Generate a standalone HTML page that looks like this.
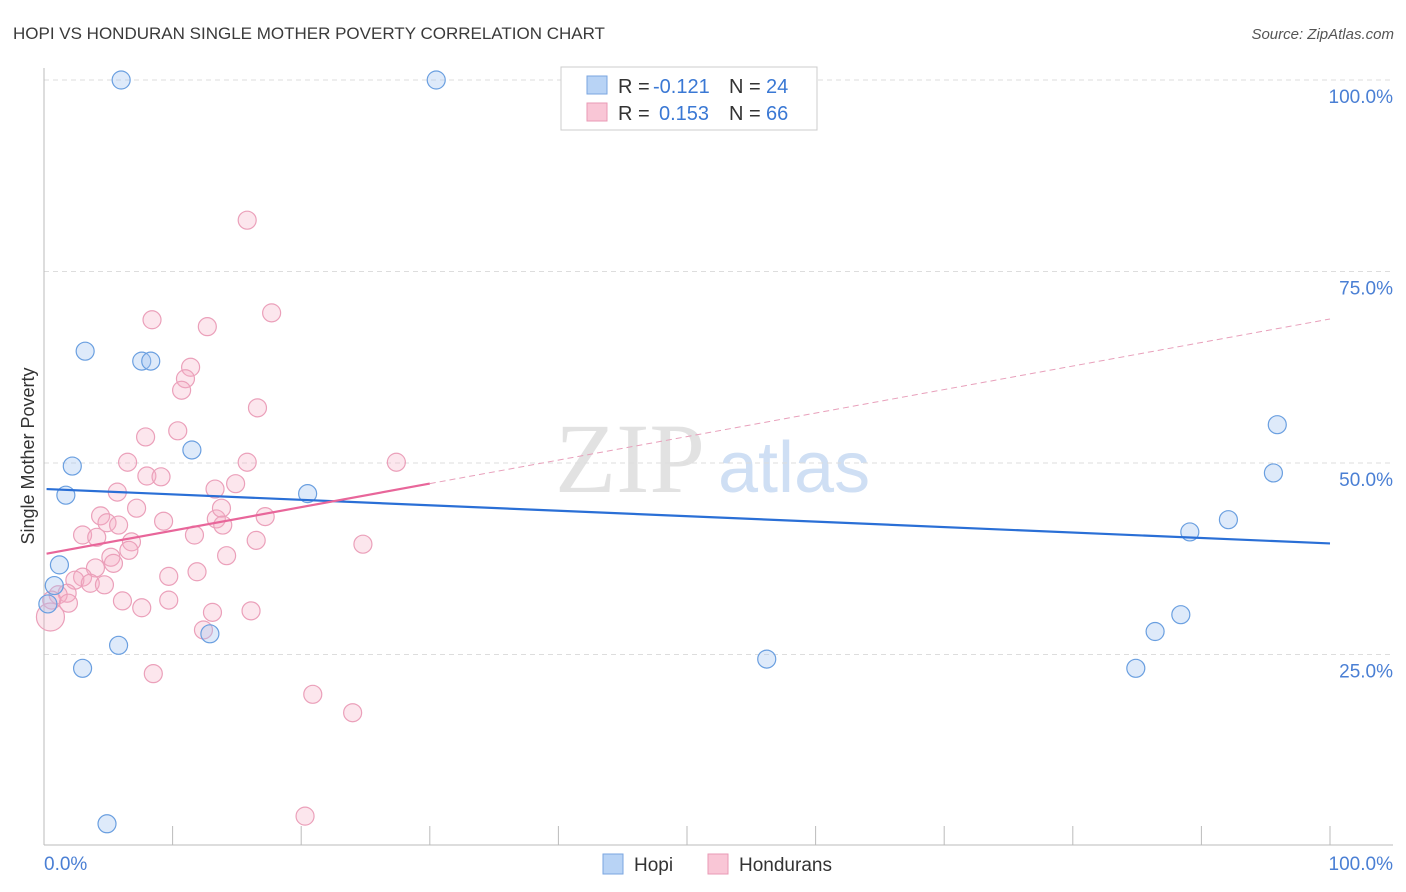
<!DOCTYPE html>
<html><head><meta charset="utf-8"><style>
body{margin:0;background:#fff;font-family:"Liberation Sans",sans-serif}
</style></head><body>
<svg id="c" width="1406" height="892" style="display:block">
<text x="13" y="39" font-size="17" fill="#3a3a3a">HOPI VS HONDURAN SINGLE MOTHER POVERTY CORRELATION CHART</text>
<text x="1394" y="39" font-size="15" fill="#555" font-style="italic" text-anchor="end">Source: ZipAtlas.com</text>
<text x="0" y="0" font-size="18" fill="#333" transform="translate(34,456) rotate(-90)" text-anchor="middle">Single Mother Poverty</text>
<text x="555" y="492" font-size="100" fill="#e2e2e2" font-family="Liberation Serif">ZIP</text>
<text x="718" y="492" font-size="72" fill="#cfdff4">atlas</text>
<g id="grid"></g><g id="pts"></g><g id="lines"></g>
<g>
<rect x="561" y="67" width="256" height="63" fill="#fff" stroke="#ccc"/>
<rect x="587" y="76" width="20" height="18" fill="#b8d3f5" stroke="#7aa6e0"/>
<text x="618" y="93" font-size="20" fill="#333">R =</text>
<text x="653" y="93" font-size="20" fill="#3a78d4">-0.121</text>
<text x="729" y="93" font-size="20" fill="#333">N =</text>
<text x="766" y="93" font-size="20" fill="#3a78d4">24</text>
<rect x="587" y="103" width="20" height="18" fill="#f9c6d6" stroke="#e99ab5"/>
<text x="618" y="120" font-size="20" fill="#333">R =</text>
<text x="659" y="120" font-size="20" fill="#3a78d4">0.153</text>
<text x="729" y="120" font-size="20" fill="#333">N =</text>
<text x="766" y="120" font-size="20" fill="#3a78d4">66</text>
</g>
<g>
<rect x="603" y="854" width="20" height="20" fill="#b8d3f5" stroke="#7aa6e0"/>
<text x="634" y="871" font-size="19" fill="#333">Hopi</text>
<rect x="708" y="854" width="20" height="20" fill="#f9c6d6" stroke="#e99ab5"/>
<text x="739" y="871" font-size="19" fill="#333">Hondurans</text>
</g>
</svg>
<script>
const yTicks=[25,50,75,100];
const xTickLabels=["0.0%","100.0%"];
const hopiX=[6.0,30.5,3.2,7.6,8.3,2.2,1.7,11.5,20.5,1.2,0.8,0.3,5.8,3.0,12.9,4.9,56.2,95.9,95.6,92.1,89.1,88.4,86.4,84.9];
const hopiY=[100,100,64.6,63.3,63.3,49.6,45.8,51.7,46.0,36.7,34.0,31.6,26.2,23.2,27.7,2.9,24.4,55.0,48.7,42.6,41.0,30.2,28.0,23.2];
const hondX=[7.9,10.4,6.5,15.8,27.4,8.0,9.1,5.7,13.3,14.9,7.2,4.4,4.9,5.8,9.3,13.4,13.8,13.9,17.2,3.0,4.1,11.7,16.5,6.8,6.6,5.2,5.4,14.2,24.8,4.0,9.7,11.9,3.0,2.4,3.6,4.7,1.8,1.1,0.6,1.9,6.1,7.6,9.7,13.1,16.1,12.4,0.5,8.5,20.9,24.0,15.8,8.4,12.7,17.7,11.4,11.0,10.7,16.6,20.3];
const hondY=[53.4,54.2,50.1,50.1,50.1,48.3,48.2,46.2,46.6,47.3,44.1,43.1,42.2,41.9,42.4,42.7,44.1,41.9,43.0,40.6,40.3,40.6,39.9,39.7,38.6,37.7,36.9,37.9,39.4,36.3,35.2,35.8,35.1,34.7,34.3,34.1,33.0,32.8,32.1,31.7,32.0,31.1,32.1,30.5,30.7,28.2,29.9,22.5,19.8,17.4,81.7,68.7,67.8,69.6,62.5,61.0,59.5,57.2,3.9];
const hopiTrend=[46.6,39.5];
const hondTrend=[38.1,68.8];
const NS="http://www.w3.org/2000/svg";
const X=v=>44+v*12.86, Y=v=>846-v*7.66;
function mk(t,a,p){const e=document.createElementNS(NS,t);for(const k in a)e.setAttribute(k,a[k]);p.appendChild(e);return e;}
const g=document.getElementById('grid');
yTicks.forEach(t=>{
 const l=mk('line',{x1:44,x2:1393,y1:Y(t),y2:Y(t),stroke:'#ddd','stroke-dasharray':'5,4'},g);
 
 
 const tx=mk('text',{x:1393,y:Y(t)+23,'font-size':19,fill:'#4a7fd4','text-anchor':'end'},g);
 tx.textContent=t.toFixed(1)+'%';
 
 
});
const ax=mk('line',{x1:44,x2:1393,y1:845,y2:845,stroke:'#bbb'},g);


const ay=mk('line',{x1:44,x2:44,y1:68,y2:845,stroke:'#bbb'},g);


for(let i=0;i<=10;i++){const t=mk('line',{x1:X(i*10),x2:X(i*10),y1:826,y2:845,stroke:'#bbb'},g);
 
 }
[[0,'start'],[100,'end']].forEach((p,i)=>{const t=mk('text',{x:i?1393:44,y:870,'font-size':19,fill:'#4a7fd4','text-anchor':p[1]},g);
 t.textContent=xTickLabels[i];
 
 });
const pg=document.getElementById('pts');
hondX.forEach((x,i)=>{const c=mk('circle',{cx:X(x),cy:Y(hondY[i]),r:x<0.6&&hondY[i]<30.5?14:9,fill:'rgba(246,172,197,0.3)',stroke:'#eba0ba','stroke-width':1.2},pg);
 
 });
hopiX.forEach((x,i)=>{const c=mk('circle',{cx:X(x),cy:Y(hopiY[i]),r:9,fill:'rgba(160,196,240,0.35)',stroke:'#6a9fe0','stroke-width':1.2},pg);
 
 });
const lg=document.getElementById('lines');
const b=mk('line',{x1:X(0.2),y1:Y(hopiTrend[0]),x2:X(100),y2:Y(hopiTrend[1]),stroke:'#2a6fd6','stroke-width':2.2},lg);


const f=x=>hondTrend[0]+(hondTrend[1]-hondTrend[0])*x/100;
const p1=mk('line',{x1:X(0.2),y1:Y(f(0.2)),x2:X(30),y2:Y(f(30)),stroke:'#e8669a','stroke-width':2.2},lg);


const p2=mk('line',{x1:X(30),y1:Y(f(30)),x2:X(100),y2:Y(f(100)),stroke:'#e8a0bb','stroke-width':1,'stroke-dasharray':'6,4'},lg);


</script>
</body></html>
